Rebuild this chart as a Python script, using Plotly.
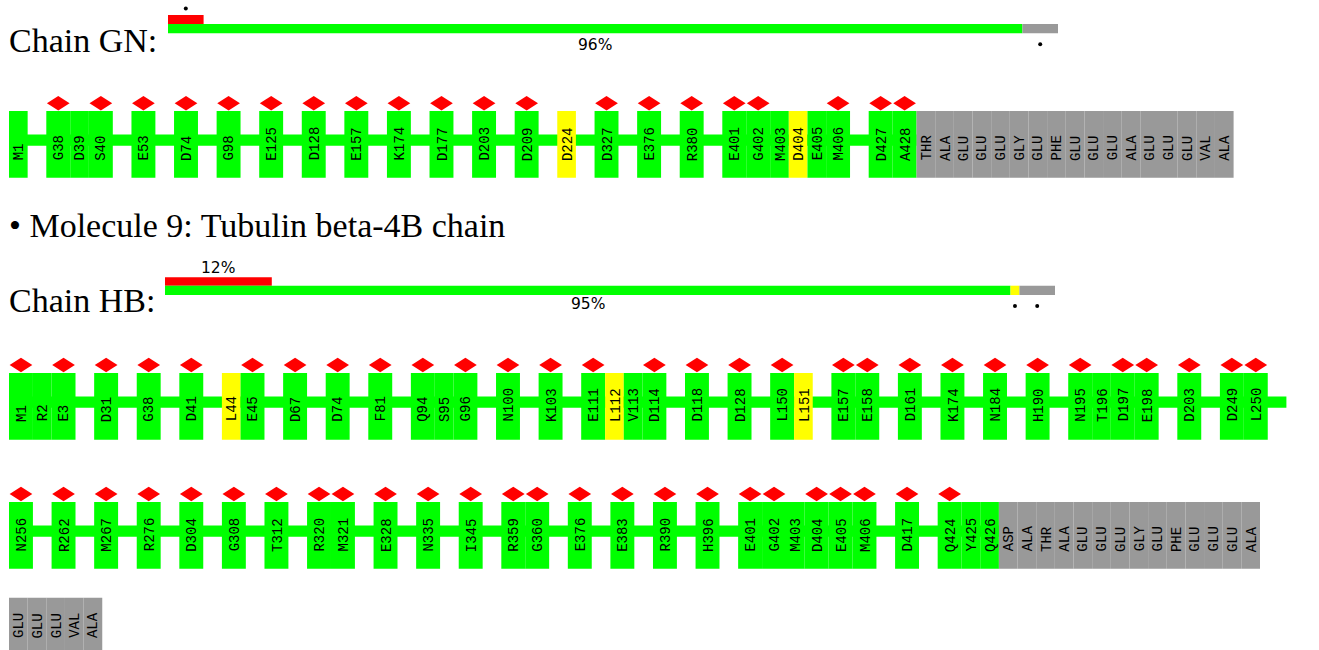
import re
import plotly.graph_objects as go

# ------------------------------------------------------------------ data
gn_residues = ["M1", "G38", "D39", "S40", "E53", "D74", "G98", "E125", "D128", "E157",
               "K174", "D177", "D203", "D209", "D224", "D327", "E376", "R380", "E401",
               "G402", "M403", "D404", "E405", "M406", "D427", "A428"]
gn_unmodelled = ["THR", "ALA", "GLU", "GLU", "GLU", "GLY", "GLU", "PHE", "GLU", "GLU",
                 "GLU", "ALA", "GLU", "GLU", "GLU", "VAL", "ALA"]
gn_yellow = ["D224", "D404"]
gn_outliers = ["G38", "S40", "E53", "D74", "G98", "E125", "D128", "E157", "K174", "D177",
               "D203", "D209", "D327", "E376", "R380", "E401", "G402", "M406", "D427", "A428"]

hb_residues_row1 = ["M1", "R2", "E3", "D31", "G38", "D41", "L44", "E45", "D67", "D74", "F81",
                    "Q94", "S95", "G96", "N100", "K103", "E111", "L112", "V113", "D114",
                    "D118", "D128", "L150", "L151", "E157", "E158", "D161", "K174", "N184",
                    "H190", "N195", "T196", "D197", "E198", "D203", "D249", "L250"]
hb_residues_row2 = ["N256", "R262", "M267", "R276", "D304", "G308", "T312", "R320", "M321",
                    "E328", "N335", "I345", "R359", "G360", "E376", "E383", "R390", "H396",
                    "E401", "G402", "M403", "D404", "E405", "M406", "D417", "Q424", "Y425",
                    "Q426"]
hb_unmodelled_row2 = ["ASP", "ALA", "THR", "ALA", "GLU", "GLU", "GLU", "GLY", "GLU", "PHE",
                      "GLU", "GLU", "GLU", "ALA"]
hb_unmodelled_row3 = ["GLU", "GLU", "GLU", "VAL", "ALA"]
hb_yellow = ["L44", "L112", "L151"]
hb_outliers = ["M1", "E3", "D31", "G38", "D41", "E45", "D67", "D74", "F81", "Q94", "G96",
               "N100", "K103", "E111", "D114", "D118", "D128", "L150", "E157", "E158", "D161",
               "K174", "N184", "H190", "N195", "D197", "E198", "D203", "D249", "L250",
               "N256", "R262", "M267", "R276", "D304", "G308", "T312", "R320", "M321", "E328",
               "N335", "I345", "R359", "G360", "E376", "E383", "R390", "H396", "E401", "G402",
               "D404", "E405", "M406", "D417", "Q424"]

# summary bars (percent of chain)
gn_upper = {"red": 4}
gn_lower = {"green": 96, "grey": 4}
hb_upper = {"red": 12}
hb_lower = {"green": 95, "yellow": 1, "grey": 4}

molecule_title = "• Molecule 9: Tubulin beta-4B chain"

# ------------------------------------------------------------------ style / layout
WIDTH, HEIGHT = 1319, 650
COL = {"green": "#00ff00", "yellow": "#ffff00", "grey": "#999999", "red": "#ff0000"}
NARROW = 18.65
WIDE = 23.93
X0 = 9
BOX_H = 66.7
LINE_OFF, LINE_H = 23.4, 11.3
DIA_W, DIA_H = 22.7, 14.6
SERIF = "Liberation Serif"
MONO = "Liberation Mono"
SANS = "DejaVu Sans"

shapes = []
annots = []


def num(label):
    return int(re.sub(r"\D", "", label))


def rect(x0, x1, y0, y1, color):
    shapes.append(dict(type="rect", xref="x", yref="y", x0=x0, x1=x1, y0=y0, y1=y1,
                       fillcolor=color, line=dict(width=0), layer="above"))


def diamond(cx, cy):
    p = (f"M {cx - DIA_W / 2},{cy} L {cx},{cy - DIA_H / 2} L {cx + DIA_W / 2},{cy} "
         f"L {cx},{cy + DIA_H / 2} Z")
    shapes.append(dict(type="path", xref="x", yref="y", path=p, fillcolor=COL["red"],
                       line=dict(width=0), layer="above"))


def label(cx, ybottom, text):
    annots.append(dict(x=cx, y=ybottom, xref="x", yref="y", text=text, showarrow=False,
                       textangle=-90, xanchor="center", yanchor="bottom", borderpad=0,
                       font=dict(family=MONO, size=14, color="#000000")))


def draw_row(residues, unmodelled, outliers, yellow, top, dia_cy, text_bottom,
             trailing_gap=False, bottom=None):
    items = []
    x = X0
    prev = None
    for r in residues:
        n = num(r)
        if prev is not None and n != prev + 1:
            x += NARROW
        w = WIDE if r in outliers else NARROW
        items.append((r, x, w, COL["yellow"] if r in yellow else COL["green"], r in outliers))
        x += w
        prev = n
    line_end = x + (NARROW if trailing_gap else 0)
    for u in unmodelled:
        items.append((u, x, NARROW, COL["grey"], False))
        x += NARROW
    bot = top + BOX_H if bottom is None else bottom
    if residues:
        rect(X0, line_end, top + LINE_OFF, top + LINE_OFF + LINE_H, COL["green"])
    for name, xs, w, c, out in items:
        rect(xs, xs + w, top, bot, c)
        if out:
            diamond(xs + w / 2, dia_cy)
        label(xs + w / 2 + 0.8, text_bottom, name)


def pct_label(x, y, v):
    annots.append(dict(x=x, y=y, xref="x", yref="y", text=f"{v}%", showarrow=False,
                       font=dict(family=SANS, size=15.5, color="black")))


def dot(x, y):
    shapes.append(dict(type="circle", xref="x", yref="y", x0=x - 2, x1=x + 2,
                       y0=y - 2, y1=y + 2, fillcolor="black", line=dict(width=0)))


def summary(x_start, total_w, upper, lower, y_up, y_mid, y_low, up_lab_y, low_lab_y):
    x = x_start
    for k, v in upper.items():
        w = total_w * v / 100
        rect(x, x + w, y_up, y_mid, COL[k])
        if v >= 10:
            pct_label(x + w / 2, up_lab_y, v)
        else:
            dot(x + w / 2, y_up - 6.5)
        x += w
    x = x_start
    for k, v in lower.items():
        w = total_w * v / 100
        rect(x, x + w, y_mid, y_low, COL[k])
        if v >= 10:
            pct_label(x + w / 2, low_lab_y, v)
        else:
            dot(x + w / 2, y_low + 11)
        x += w


def serif_text(x, y, text, size):
    annots.append(dict(x=x, y=y, xref="x", yref="y", text=text, showarrow=False,
                       xanchor="left", yanchor="middle", borderpad=0,
                       font=dict(family=SERIF, size=size, color="black")))


# ---- chain GN
serif_text(X0 - 1, 40, "Chain GN:", 34)
summary(168, 890, gn_upper, gn_lower, 15, 24, 33.3, 8, 44.5)
draw_row(gn_residues, gn_unmodelled, gn_outliers, gn_yellow, 111, 103.3, 161.7)

# ---- molecule 9 heading
serif_text(X0 - 1, 225, molecule_title, 34)

# ---- chain HB
serif_text(X0 - 1, 300, "Chain HB:", 34)
summary(165, 890, hb_upper, hb_lower, 277.3, 285.7, 295, 267.5, 304)
row2_gap = num(hb_residues_row2[0]) != num(hb_residues_row1[-1]) + 1
draw_row(hb_residues_row1, [], hb_outliers, hb_yellow, 373, 365, 422.7, trailing_gap=row2_gap)
draw_row(hb_residues_row2, hb_unmodelled_row2, hb_outliers, hb_yellow, 502, 494, 552.7)
draw_row([], hb_unmodelled_row3, hb_outliers, hb_yellow, 597.7, 590, 639.3, bottom=650)

fig = go.Figure()
fig.update_layout(
    width=WIDTH, height=HEIGHT, margin=dict(l=0, r=0, t=0, b=0),
    paper_bgcolor="white", plot_bgcolor="white", showlegend=False,
    xaxis=dict(range=[0, WIDTH], visible=False, fixedrange=True),
    yaxis=dict(range=[HEIGHT, 0], visible=False, fixedrange=True),
    shapes=shapes, annotations=annots,
)
fig.write_html("out.html", config={"displayModeBar": False},
               post_script="document.body.style.margin='0';document.body.style.overflow='hidden';")
